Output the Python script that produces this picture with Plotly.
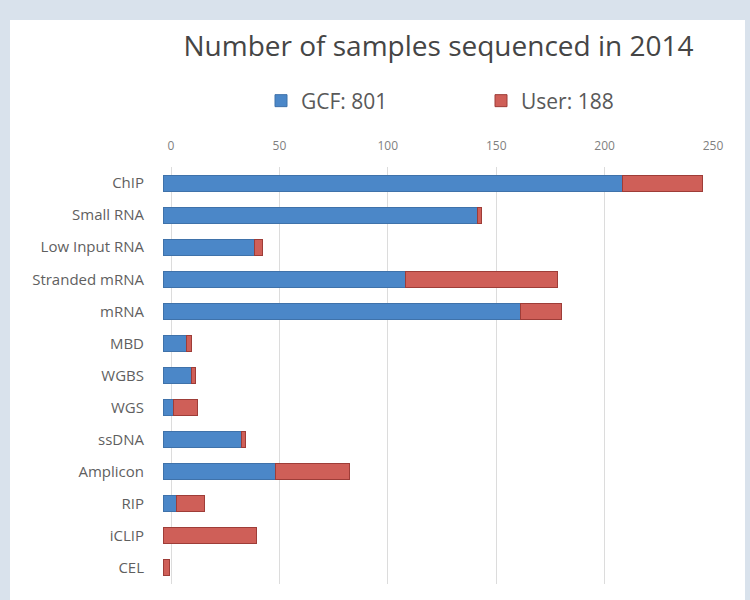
import plotly.graph_objects as go

categories = ["ChIP", "Small RNA", "Low Input RNA", "Stranded mRNA", "mRNA", "MBD",
              "WGBS", "WGS", "ssDNA", "Amplicon", "RIP", "iCLIP", "CEL"]
gcf = [212, 145, 42, 112, 165, 11, 13, 5, 36, 52, 6, 0, 0]
user = [37, 2, 4, 70, 19, 2, 2, 11, 2, 34, 13, 43, 3]
legend_names = ["GCF: 801", "User: 188"]
tick_vals = [0, 50, 100, 150, 200, 250]

BLUE = "#4b87c8"
RED = "#cf5f58"
FONT = "Open Sans, Lato, sans-serif"

fig = go.Figure()
# invisible anchor trace so the gridded top axis is drawn
fig.add_trace(go.Scatter(x=[0], y=[categories[0]], mode="markers",
                         marker=dict(opacity=0), showlegend=False, hoverinfo="skip"))
fig.add_trace(go.Bar(y=categories, x=gcf, orientation="h", name=legend_names[0],
                     marker=dict(color=BLUE, line=dict(color="#3f72aa", width=1)),
                     xaxis="x2"))
fig.add_trace(go.Bar(y=categories, x=user, orientation="h", name=legend_names[1],
                     marker=dict(color=RED, line=dict(color="#9e3d38", width=1)),
                     xaxis="x2"))

L, R, T, B = 163, 37, 167, 16
W, H = 750, 600
pw = W - L - R
ph = H - T - B
scale = 542 / 250.0  # pixels per unit
shift = 8 / scale    # bars' front face sits 8px left of the back-wall gridlines

def px_x(p):
    return (p - L) / pw

def px_y(p):
    return (H - B - p) / ph

fig.update_layout(
    width=W, height=H,
    margin=dict(l=L, r=R, t=T, b=B, autoexpand=False),
    barmode="stack",
    bargap=0.5,
    paper_bgcolor="#d9e2ec",
    plot_bgcolor="rgba(0,0,0,0)",
    font=dict(family=FONT, color="#595959"),
    title=dict(text="Number of samples sequenced in 2014", xref="container", yref="container",
               x=438.5 / W, xanchor="center", y=1 - 46 / H, yanchor="middle",
               font=dict(size=28, color="#454545", family=FONT)),
    legend=dict(orientation="h", xref="container", yref="container", traceorder="normal",
                x=261 / W, xanchor="left", y=1 - 101 / H, yanchor="middle",
                entrywidth=175, entrywidthmode="pixels",
                font=dict(size=21, color="#595959"), bgcolor="rgba(0,0,0,0)"),
    xaxis=dict(range=[-shift, 250], side="top", tickvals=tick_vals, showgrid=True,
               gridcolor="#dcdcdc", gridwidth=1, zeroline=False, showline=False,
               tickfont=dict(size=12, color="#7f7f7f"), ticks="", automargin=False,
               ticklabelstandoff=14),
    xaxis2=dict(range=[0, pw / scale], overlaying="x", side="top", visible=False,
                showgrid=False, zeroline=False, automargin=False),
    yaxis=dict(range=[len(categories) - 0.5, -0.5], showgrid=False, zeroline=False,
               showline=False, tickfont=dict(size=15, color="#5f5f5f"), ticks="",
               automargin=False, ticklabelstandoff=18),
    shapes=[dict(type="rect", xref="paper", yref="paper", layer="below",
                 x0=px_x(10), x1=px_x(745), y0=px_y(600), y1=px_y(20),
                 fillcolor="white", line=dict(width=0))],
)

fig.write_html("out.html", config={"displayModeBar": False},
               post_script="document.body.style.margin='0px';")
